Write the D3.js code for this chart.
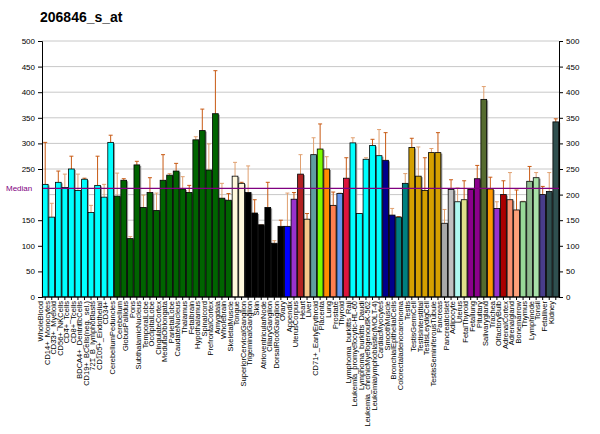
<!DOCTYPE html>
<html>
<head>
<meta charset="utf-8">
<script src="https://cdn.jsdelivr.net/npm/d3@7"></script>
<style>
body { margin: 0; background: #fff; }
text { font-family: "Liberation Sans", Arial, sans-serif; }
</style>
</head>
<body>
<svg id="chart" width="600" height="434"></svg>
<script>
const labels = ['WholeBlood','CD14+_Monocytes','CD33+_Myeloid','CD56+_NKCells','CD4+_Tcells','CD8+_Tcells','BDCA4+_DentriticCells','CD19+_BCells(neg._sel.)','721_B_lymphoblasts','CD105+_Endothelial','CD34+',
 'CerebellumPeduncles','Cerebellum','GlobusPallidus','Pons','SubthalamicNucleus','TemporalLobe','OccipitalLobe','CingulateCortex','MedullaOblongata','ParietalLobe','CaudateNucleus','Thalamus','Fetalbrain','Hypothalamus','Spinalcord','PrefrontalCortex','Amygdala','Wholebrain',
 'SkeletalMuscle','Tongue','SuperiorCervicalGanglion','TrigeminalGanglion','Skin','AtrioventricularNode','CiliaryGanglion','DorsalRootGanglion','Ovary','Appendix','UterusCorpus','Heart','Liver','CD71+_EarlyErythroid','Placenta','Lung','Prostate','Thyroid',
 'Lymphoma_burkitts_Raji','Leukemia_promyelocytic-HL-60','Lymphoma_burkitts_Daudi','Leukemia_chronicMyelogenousK-562','Leukemialymphoblastic(MOLT-4)','CardiacMyocytes','SmoothMuscle','BronchialEpithelialCells','Colorectaladenocarcinoma',
 'Testis','TestisGermCell','TestisInterstitial','TestisLeydigCell','TestisSeminiferousTubule','Pancreas','PancreaticIslet','Adipocyte','Uterus','FetalThyroid','Fetallung','Pituitary','Salivarygland','Trachea','OlfactoryBulb','AdrenalCortex','Adrenalgland','Bonemarrow','Thymus','Lymphnode','Tonsil','Fetalliver','Kidney']

const values = [220,156,224,214,250,208,230,165,218,195,302,
 197,228,114,258,175,204,169,228,238,246,211,204,307,325,248,358,193,189,
 236,222,204,164,141,175,105,138,138,191,240,152,278,289,250,179,202,232,
 301,163,269,296,276,267,160,156,222,
 292,236,208,282,282,144,210,186,190,210,231,386,211,173,200,190,170,186,226,233,200,206,342]

const errTop = [302,183,246,240,275,240,232,179,275,220,316,
 242,231,118,265,199,233,203,278,241,261,235,218,313,367,299,442,222,202,
 263,224,256,190,141,224,110,150,203,204,278,163,311,338,274,205,203,272,
 311,163,272,308,327,321,173,157,241,
 310,293,272,290,321,171,229,213,227,210,257,411,234,186,227,243,209,187,255,243,216,243,348]

const colors = [].concat(
 Array(11).fill('#00ffff'),
 Array(18).fill('#006400'),
 ['#fff8dc','#fff8dc'],
 Array(6).fill('#000000'),
 ['#0000ff','#9932cc','#b22222','#f5c78a','#5f9ea0','#7cfc00','#ff8c00','#ff7f50','#6495ed','#dc143c'],
 Array(5).fill('#00ffff'),
 ['#00008b','#00008b','#008080','#008080'],
 Array(5).fill('#d4a000'),
 ['#a9a9a9','#c0c0c0','#aff8f0','#e0e08a','#8b008b','#8b008b','#556b2f','#ff9900','#9932cc','#aa0000','#fa9070','#ffa07a','#98d898','#8fbc8f','#a8e0a8','#483d8b','#2f4f4f','#2f4f4f']
)

const median = 212
const yTicks = d3.range(0, 501, 50)

const svg = d3.select('#chart')
const m = {left: 42, right: 41, top: 41, bottom: 137}
const W = 600, H = 434
const x = d3.scaleBand().domain(labels).range([m.left, W - m.right]).paddingInner(0.12).paddingOuter(0.05)
const y = d3.scaleLinear().domain([0, 500]).range([H - m.bottom, m.top])

svg.append('text').attr('x', 40).attr('y', 22).attr('font-size', 14).attr('font-weight', 'bold').text('206846_s_at')

// grid
svg.append('g').selectAll('line').data(yTicks.slice(1)).join('line')
	.attr('x1', m.left).attr('x2', W - m.right)
	.attr('y1', d => y(d)).attr('y2', d => y(d))
	.attr('stroke', '#c8c8c8').attr('stroke-width', 1)

// error bars
const eb = svg.append('g').selectAll('g').data(labels).join('g')
	.attr('stroke', (d, i) => i % 2 ? '#e0a070' : '#c85a14').attr('stroke-width', 1)
eb.append('line')
	.attr('x1', d => x(d) + x.bandwidth() / 2).attr('x2', d => x(d) + x.bandwidth() / 2)
	.attr('y1', (d, i) => y(values[i])).attr('y2', (d, i) => y(errTop[i]))
eb.append('line')
	.attr('x1', d => x(d) + x.bandwidth() / 2 - 2).attr('x2', d => x(d) + x.bandwidth() / 2 + 2)
	.attr('y1', (d, i) => y(errTop[i])).attr('y2', (d, i) => y(errTop[i]))

// shadows
svg.append('g').selectAll('rect').data(labels).join('rect')
	.attr('x', d => x(d) + 1.5).attr('width', x.bandwidth())
	.attr('y', (d, i) => y(values[i]) + 1).attr('height', (d, i) => y(0) - y(values[i]) - 1)
	.attr('fill', '#999')

// bars
svg.append('g').selectAll('rect').data(labels).join('rect')
	.attr('x', d => x(d)).attr('width', x.bandwidth())
	.attr('y', (d, i) => y(values[i])).attr('height', (d, i) => y(0) - y(values[i]))
	.attr('fill', (d, i) => colors[i]).attr('stroke', '#000').attr('stroke-width', 0.8)

// median
svg.append('line').attr('x1', m.left).attr('x2', W - m.right)
	.attr('y1', y(median)).attr('y2', y(median)).attr('stroke', '#800080').attr('stroke-width', 1.2)
svg.append('text').attr('x', 6).attr('y', y(median) + 3).attr('font-size', 8).attr('fill', '#800080').text('Median')

// axes
svg.append('g').attr('transform', `translate(${m.left},0)`)
	.call(d3.axisLeft(y).tickValues(yTicks.filter(t => t !== 200)).tickSize(4))
	.call(g => g.selectAll('text').attr('font-size', 8))
svg.append('g').attr('transform', `translate(${W - m.right},0)`)
	.call(d3.axisRight(y).tickValues(yTicks).tickSize(4))
	.call(g => g.selectAll('text').attr('font-size', 8))
const xa = svg.append('g').attr('transform', `translate(0,${H - m.bottom})`)
	.call(d3.axisBottom(x).tickSize(3))
xa.select('.domain').attr('d', `M${m.left},0H${W - m.right}`)
xa.selectAll('text').attr('font-size', 7.5).attr('text-anchor', 'end')
	.attr('transform', 'rotate(-90)').attr('dx', '-4').attr('dy', '-0.3em').attr('x', 0).attr('y', 0)
</script>
</body>
</html>
